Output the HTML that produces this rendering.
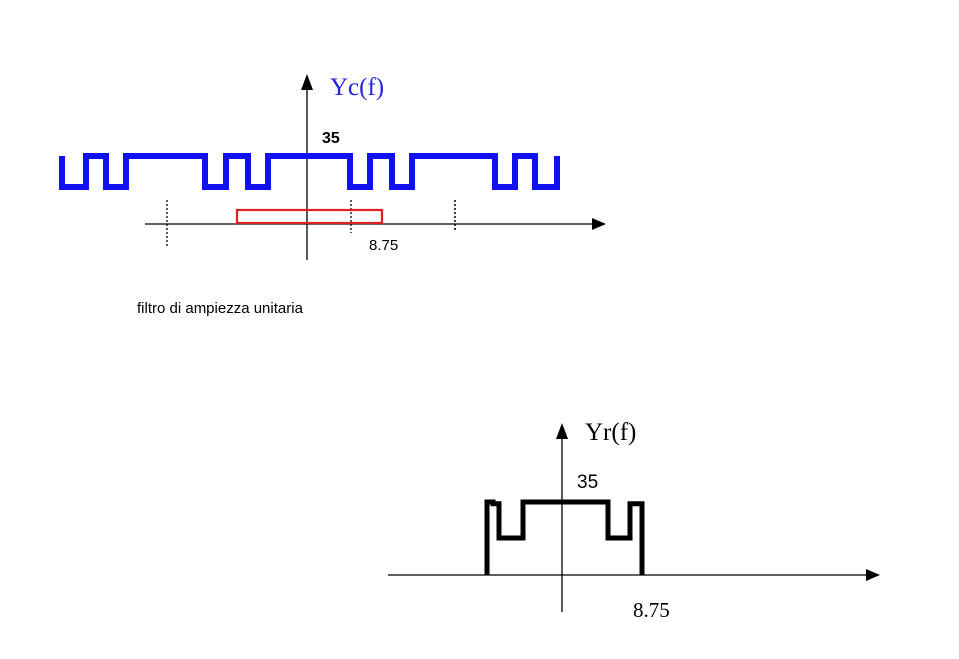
<!DOCTYPE html>
<html><head><meta charset="utf-8"><style>
body{margin:0;background:#fff;width:959px;height:659px;overflow:hidden}
svg{display:block}
</style></head><body>
<svg width="959" height="659">
<g id="top">
<line x1="145" y1="224" x2="595" y2="224" stroke="#000" stroke-width="1.3"/>
<polygon points="606,224 592,218 592,230" fill="#000"/>
<line x1="307" y1="260" x2="307" y2="84" stroke="#000" stroke-width="1.3"/>
<polygon points="307,74 301,90 313,90" fill="#000"/>
<line x1="167" y1="200" x2="167" y2="246" stroke="#000" stroke-width="1.3" stroke-dasharray="2,2"/>
<line x1="351" y1="200" x2="351" y2="233" stroke="#000" stroke-width="1.3" stroke-dasharray="2,2"/>
<line x1="455" y1="200" x2="455" y2="230" stroke="#000" stroke-width="1.5" stroke-dasharray="2,2"/>
<rect x="237" y="210" width="145" height="13" fill="none" stroke="#e02020" stroke-width="2.2"/>
<text x="330" y="95" font-family="Liberation Serif, serif" font-size="25" fill="#2222e0">Yc(f)</text>
<text x="322" y="143" font-family="Liberation Sans, sans-serif" font-size="16" font-weight="bold" fill="#000">35</text>
<text x="369" y="250" font-family="Liberation Sans, sans-serif" font-size="15" fill="#000">8.75</text>
</g>
<text x="137" y="313" font-family="Liberation Sans, sans-serif" font-size="15" fill="#000">filtro di ampiezza unitaria</text>
<g>
<line x1="388" y1="575" x2="868" y2="575" stroke="#000" stroke-width="1.3"/>
<polygon points="880,575 866,569 866,581" fill="#000"/>
<line x1="562" y1="612" x2="562" y2="434" stroke="#000" stroke-width="1.3"/>
<polygon points="562,423 556,439 568,439" fill="#000"/>
<text x="585" y="440" font-family="Liberation Serif, serif" font-size="25" fill="#000">Yr(f)</text>
<text x="577" y="488" font-family="Liberation Sans, sans-serif" font-size="19" fill="#000">35</text>
<text x="633" y="617" font-family="Liberation Serif, serif" font-size="21" fill="#000">8.75</text>
</g>
</svg>
<script>
// Top spectrum: breakpoints (frequency units, px-based axis) and levels (1 = high, 0 = low)
const topEdges = [62, 86, 106, 126, 205, 226, 248, 268, 350, 370, 392, 412, 495, 515, 535, 557];
const topLevels = [1, 0, 1, 0, 1, 0, 1, 0, 1, 0, 1, 0, 1, 0, 1, 0, 1];
// Bottom (filtered) spectrum
const botEdges = [487, 493, 499, 523, 608, 630, 642];
const botLevels = [0, 1, 0, 1, 0, 1, 0];
const NS = 'http://www.w3.org/2000/svg';
const svg = document.querySelector('svg');
function topY(v){return 187 - v*31;}
function botY(v){return v<0?575:(538 - v*36);}
// top trace: starts high at first edge, then alternates
let d = 'M' + topEdges[0] + ',' + topY(topLevels[0]);
for (let i=0;i<topEdges.length;i++){
  const x = topEdges[i];
  d += ' L' + x + ',' + topY(topLevels[i]);
  if (i+1<topLevels.length) d += ' L' + x + ',' + topY(topLevels[i+1]);
}
const p1 = document.createElementNS(NS,'path');
p1.setAttribute('d', d);
p1.setAttribute('fill','none');
p1.setAttribute('stroke','#1010f0');
p1.setAttribute('stroke-width','6');


svg.appendChild(p1);
// bottom trace: base -> levels -> base
let d2 = 'M' + botEdges[0] + ',575 L' + botEdges[0] + ',' + botY(1);
for (let i=1;i<botEdges.length;i++){
  d2 += ' L' + botEdges[i] + ',' + botY(botLevels[i-1]===0?1:botLevels[i-1]===1?0:1);
}
// simpler explicit construction from levels
d2 = 'M' + botEdges[0] + ',575';
const seq = [1,1,0.02,0,1,1,0.02,0];
const bl = [1, 0.95, 0, 1, 0, 0.95, -1];
for (let i=0;i<botEdges.length;i++){
  const x = botEdges[i];
  const prev = i===0 ? -1 : bl[i-1];
  d2 += ' L' + x + ',' + botY(prev) + ' L' + x + ',' + botY(bl[i]);
}
const p2 = document.createElementNS(NS,'path');
p2.setAttribute('d', d2);
p2.setAttribute('fill','none');
p2.setAttribute('stroke','#000');
p2.setAttribute('stroke-width','5');


svg.appendChild(p2);
</script>
</body></html>
